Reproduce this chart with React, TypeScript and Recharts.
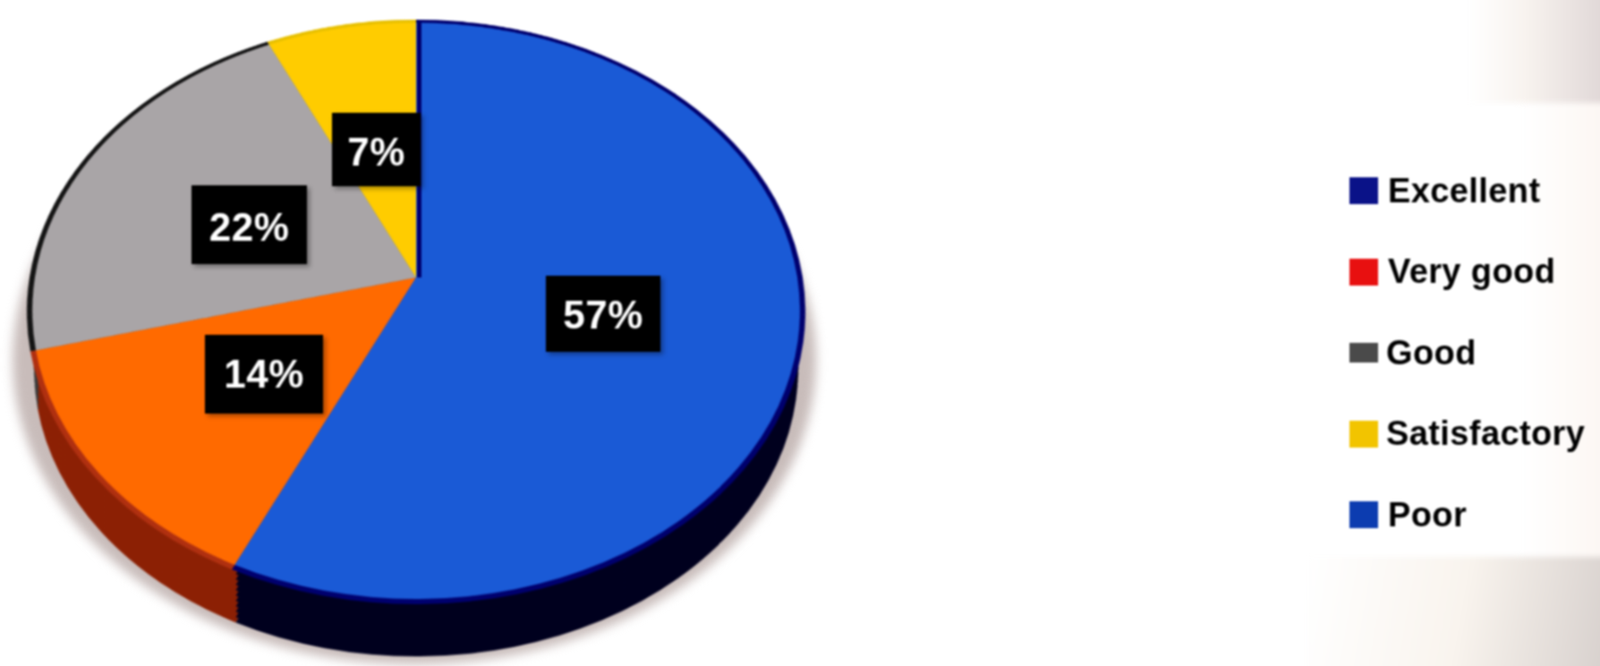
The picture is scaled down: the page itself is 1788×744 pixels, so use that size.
import { PieChart, Pie, Cell } from 'recharts';

const categories = ['Excellent', 'Very good', 'Good', 'Satisfactory', 'Poor'];
const shares = [0, 14, 22, 7, 57];
const faceColors = ['#10208c', '#ff6a00', '#a9a5a7', '#ffcc00', '#1a5ad6'];
const rimColors = ['#000060', '#b03010', '#141414', '#e8c000', '#00006e'];
const sideColors = ['#000020', '#8c2004', '#3a3a3a', '#8a7000', '#00001e'];
const legendColors = ['#0a1288', '#e81010', '#4a4a4a', '#f2c400', '#0c3cb0'];

const sideOffsets = [66, 60, 54, 48, 42, 36, 30, 24, 18, 12, 6];

// boxes sit by hand over the slices, same as the source picture
const labelBoxes = [
  null,
  { left: 229, top: 374, width: 132, height: 88, nudge: 0 },
  { left: 214, top: 207, width: 129, height: 88, nudge: 6 },
  { left: 371, top: 126, width: 99, height: 82, nudge: 5 },
  { left: 610, top: 308, width: 128, height: 85, nudge: 3 },
];

const data = categories.map((name, i) => ({ name, value: shares[i] }));

const SIZE = 900;

function Disc({ colors, top, radius }: { colors: string[]; top: number; radius: number }) {
  return (
    <div
      style={{
        position: 'absolute',
        left: 465 - SIZE / 2,
        top: 310 - SIZE / 2 + top,
        width: SIZE,
        height: SIZE,
        transform: 'perspective(2450px) rotateX(41.8deg)',
        transformOrigin: 'center center',
      }}
    >
      <PieChart width={SIZE} height={SIZE} margin={{ top: 0, right: 0, bottom: 0, left: 0 }}>
        <Pie
          data={data}
          dataKey="value"
          cx={SIZE / 2}
          cy={SIZE / 2}
          innerRadius={0}
          outerRadius={radius}
          startAngle={-115.2}
          endAngle={-475.2}
          stroke="none"
          isAnimationActive={false}
        >
          {data.map((d, i) => (
            <Cell key={d.name} fill={colors[i]} />
          ))}
        </Pie>
      </PieChart>
    </div>
  );
}

export default function App() {
  return (
    <div
      style={{
        position: 'absolute',
        left: 0,
        top: 0,
        width: 1788,
        height: 744,
        overflow: 'hidden',
        background: '#ffffff',
        fontFamily: '"Liberation Sans", Arial, sans-serif',
      }}
    >
      {/* page shading behind the legend */}
      <div style={{ position: 'absolute', inset: 0, filter: 'blur(3px)' }}>
        <div
          style={{
            position: 'absolute',
            left: 1640,
            top: -10,
            width: 160,
            height: 125,
            background: 'linear-gradient(90deg, #ffffff 0%, #f8f3ef 40%, #ded5d5 100%)',
          }}
        />
        <div
          style={{
            position: 'absolute',
            left: 1460,
            top: 622,
            width: 340,
            height: 132,
            background: 'linear-gradient(100deg, #ffffff 0%, #f9f4ee 50%, #d6cfcc 100%)',
          }}
        />
        <div
          style={{
            position: 'absolute',
            left: 1700,
            top: 115,
            width: 100,
            height: 507,
            background: 'linear-gradient(90deg, #ffffff 0%, #fcf6f2 100%)',
          }}
        />
      </div>

      <div style={{ position: 'absolute', inset: 0, filter: 'blur(1.2px)' }}>
        {/* soft shadow under the pie */}
        <div
          style={{
            position: 'absolute',
            left: 14,
            top: 62,
            width: 898,
            height: 680,
            borderRadius: '50%',
            background: '#c8bcba',
            filter: 'blur(6px)',
          }}
        />

        {sideOffsets.map((offset) => (
          <Disc key={offset} colors={sideColors} top={offset} radius={424} />
        ))}
        <Disc colors={rimColors} top={0} radius={432} />
        <Disc colors={faceColors} top={0} radius={426} />

        {/* navy seam where the big slice meets the yellow one */}
        <div style={{ position: 'absolute', left: 466, top: 24, width: 5, height: 286, background: '#00006e' }} />

        {labelBoxes.map((box, i) => {
          if (!box) return null;
          const { nudge, ...rect } = box;
          return (
            <div
              key={categories[i]}
              style={{
                position: 'absolute',
                ...rect,
                background: '#000',
                color: '#fff',
                fontSize: 44,
                fontWeight: 700,
                lineHeight: `${box.height + nudge}px`,
                textAlign: 'center',
                letterSpacing: 0.5,
                boxShadow: '3px 3px 5px rgba(0,0,0,0.35)',
              }}
            >
              {shares[i]}%
            </div>
          );
        })}

        {categories.map((name, i) => (
          <div
            key={name}
            style={{
              position: 'absolute',
              left: 1508,
              top: 213 + i * 90.5 - 20,
              height: 40,
              display: 'flex',
              alignItems: 'center',
              whiteSpace: 'nowrap',
            }}
          >
            <span
              style={{
                width: 32,
                height: name === 'Good' ? 22 : 30,
                background: legendColors[i],
                marginRight: name === 'Satisfactory' || name === 'Good' ? 9 : 11,
              }}
            />
            <span style={{ fontSize: 38, fontWeight: 700, color: '#000', letterSpacing: 0.4 }}>{name}</span>
          </div>
        ))}
      </div>
    </div>
  );
}
